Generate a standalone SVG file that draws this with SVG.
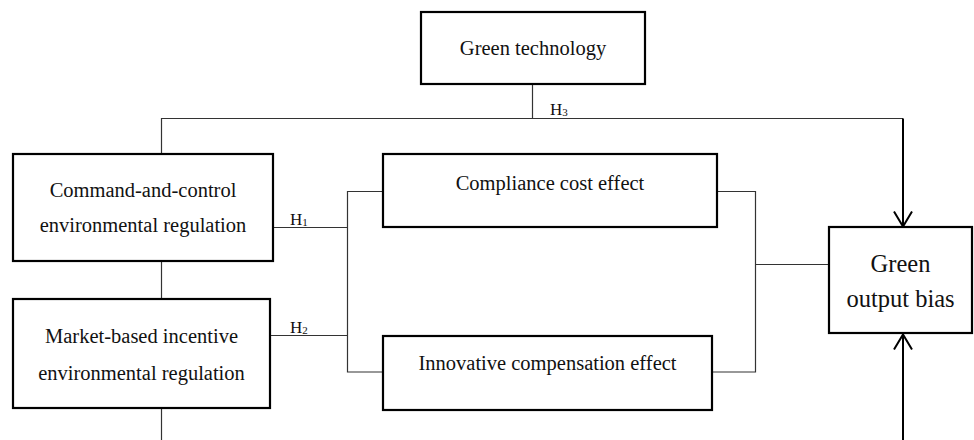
<svg xmlns="http://www.w3.org/2000/svg" width="974" height="440" viewBox="0 0 974 440">
<defs>
<marker id="vhead" viewBox="0 0 20 20" refX="16" refY="10" markerWidth="20" markerHeight="20" markerUnits="userSpaceOnUse" orient="auto">
<path d="M1 1 L16 10 L1 19" fill="none" stroke="#000" stroke-width="2"/>
</marker>
<style>
.box{fill:#fff;stroke:#000;stroke-width:2.2}
.t{font-family:"Liberation Serif","Times New Roman",serif;font-size:20.5px;fill:#111;text-anchor:middle}
.big{font-size:24.5px}
.h{font-family:"Liberation Serif","Times New Roman",serif;font-size:17px;fill:#111}
.sub{font-size:11px}
.c{fill:none;stroke:#333;stroke-width:1.2}
.a{fill:none;stroke:#000;stroke-width:2}
</style>
</defs>
<rect width="974" height="440" fill="#fff"/>
<g id="connectors">
<path class="c" d="M532.5 84 V118.5"/>
<path class="c" d="M161.5 154 V118.5 H903"/>
<path class="c" d="M161.5 261 V299"/>
<path class="c" d="M161.5 408 V440"/>
<path class="c" d="M273 227.5 H347.5"/>
<path class="c" d="M270 335.5 H347.5"/>
<path class="c" d="M383 191.5 H347.5 V372 H383"/>
<path class="c" d="M717 191.5 H755.5 V372 H712"/>
<path class="c" d="M755.5 264.5 H829"/>
<path class="a" d="M903 118.5 V226.5" marker-end="url(#vhead)"/>
<path class="a" d="M903 440 V334.5" marker-end="url(#vhead)"/>
<text class="h" x="290" y="225">H<tspan class="sub" dy="1">1</tspan></text>
<text class="h" x="290" y="333">H<tspan class="sub" dy="1">2</tspan></text>
<text class="h" x="550" y="115">H<tspan class="sub" dy="1">3</tspan></text>
</g>
<g id="green-technology">
<rect class="box" x="421" y="12" width="224" height="72"/>
<text class="t" x="533" y="55">Green technology</text>
</g>
<g id="command-control">
<rect class="box" x="13" y="154" width="260" height="107"/>
<text class="t" x="143" y="197">Command-and-control</text>
<text class="t" x="143" y="232">environmental regulation</text>
</g>
<g id="market-based">
<rect class="box" x="13" y="299" width="257" height="109"/>
<text class="t" x="141.5" y="343">Market-based incentive</text>
<text class="t" x="141.5" y="380">environmental regulation</text>
</g>
<g id="compliance-cost">
<rect class="box" x="383" y="154" width="334" height="73"/>
<text class="t" x="550" y="190">Compliance cost effect</text>
</g>
<g id="innovative-compensation">
<rect class="box" x="383" y="336" width="329" height="74"/>
<text class="t" x="547.5" y="370">Innovative compensation effect</text>
</g>
<g id="green-output-bias">
<rect class="box" x="829" y="227" width="143" height="106"/>
<text class="t big" x="900.5" y="272">Green</text>
<text class="t big" x="900.5" y="307">output bias</text>
</g>
</svg>
